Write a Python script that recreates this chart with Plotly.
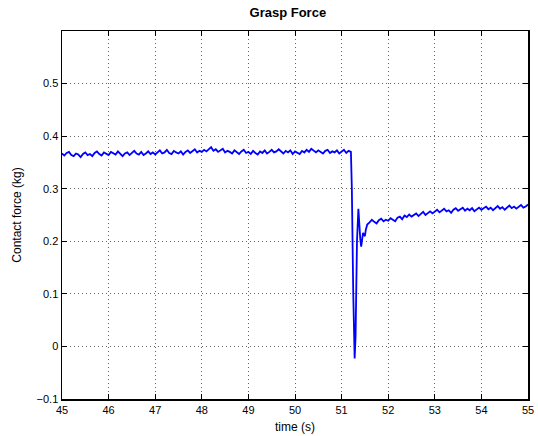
import plotly.graph_objects as go

# --- data ---
pre_t0, pre_dt = 45.00, 0.05
pre_values = [
    0.367,0.363,0.368,0.370,0.364,0.362,0.367,0.365,0.360,0.366,0.369,0.364,0.366,0.362,0.368,0.371,0.366,0.363,0.369,0.367,
    0.364,0.370,0.368,0.365,0.371,0.366,0.362,0.367,0.369,0.364,0.368,0.372,0.367,0.365,0.370,0.364,0.367,0.371,0.366,0.369,
    0.365,0.370,0.373,0.367,0.369,0.374,0.368,0.366,0.372,0.369,0.367,0.371,0.365,0.370,0.373,0.368,0.371,0.375,0.369,0.372,
    0.370,0.374,0.371,0.376,0.379,0.372,0.375,0.370,0.373,0.376,0.369,0.372,0.370,0.367,0.373,0.369,0.366,0.371,0.374,0.368,
    0.370,0.366,0.372,0.368,0.365,0.371,0.368,0.373,0.367,0.370,0.374,0.369,0.371,0.375,0.370,0.367,0.372,0.369,0.373,0.366,
    0.371,0.368,0.366,0.372,0.369,0.374,0.370,0.376,0.372,0.369,0.373,0.370,0.367,0.372,0.374,0.368,0.371,0.369,0.373,0.367,
    0.371,0.374,0.368,0.372,0.370,
]
trans_t = [51.22, 51.25, 51.28, 51.30, 51.33, 51.36, 51.38, 51.40, 51.42, 51.44, 51.46, 51.48, 51.50, 51.52, 51.55]
trans_values = [0.30, 0.10, -0.023, 0.02, 0.20, 0.262, 0.228, 0.205, 0.190, 0.200, 0.216, 0.212, 0.210, 0.222, 0.232]
post_t0, post_dt = 51.60, 0.05
post_values = [
    0.236,0.241,0.237,0.234,0.240,0.243,0.238,0.241,
    0.239,0.244,0.241,0.238,0.245,0.247,0.242,0.249,0.246,0.251,0.247,0.250,0.253,0.248,0.252,0.256,0.250,0.254,0.257,0.253,
    0.256,0.260,0.255,0.258,0.262,0.257,0.259,0.254,0.260,0.263,0.258,0.261,0.264,0.258,0.262,0.259,0.263,0.257,0.261,0.264,
    0.260,0.263,0.266,0.261,0.264,0.259,0.263,0.267,0.262,0.265,0.260,0.264,0.268,0.263,0.266,0.262,0.265,0.269,0.264,0.266,
    0.270,
]
x_ticks = [45, 46, 47, 48, 49, 50, 51, 52, 53, 54, 55]
y_ticks = [-0.1, 0, 0.1, 0.2, 0.3, 0.4, 0.5]
y_tick_text = ["\u22120.1", "0", "0.1", "0.2", "0.3", "0.4", "0.5"]

pre_t = [round(pre_t0 + i * pre_dt, 3) for i in range(len(pre_values))]
post_t = [round(post_t0 + i * post_dt, 3) for i in range(len(post_values))]
t = pre_t + trans_t + post_t
v = pre_values + trans_values + post_values

FONT = "Liberation Sans, Arial, Helvetica, sans-serif"

fig = go.Figure()
fig.add_trace(go.Scatter(x=t, y=v, mode="lines",
                         line=dict(color="#0000ff", width=1.8), showlegend=False))

axis_common = dict(
    showline=True, linecolor="black", linewidth=1.5, mirror="allticks",
    ticks="inside", ticklen=5, tickcolor="black", tickwidth=1,
    showgrid=True, gridcolor="#666666", griddash="1px,3px", gridwidth=1,
    zeroline=False, automargin=False,
    tickfont=dict(family=FONT, size=11, color="black"),
)

fig.update_layout(
    width=538, height=436,
    margin=dict(l=62, r=10, t=31, b=37, autoexpand=False),
    paper_bgcolor="white", plot_bgcolor="white",
    title=dict(text="<b>Grasp Force</b>", x=0.535, xanchor="center",
               yref="container", y=1 - 12 / 436, yanchor="middle",
               font=dict(family=FONT, size=13, color="black")),
    xaxis=dict(range=[45, 55], tickvals=x_ticks, ticktext=[str(x) for x in x_ticks],
               title=dict(text="time (s)", font=dict(family=FONT, size=12, color="black"), standoff=8),
               **axis_common),
    yaxis=dict(range=[-0.1, 0.6], tickvals=y_ticks, ticktext=y_tick_text,
               title=dict(text="Contact force (kg)", font=dict(family=FONT, size=12, color="black"), standoff=12),
               **axis_common),
)

fig.write_html("out.html",
               config={"displayModeBar": False, "staticPlot": True},
               post_script="document.body.style.margin='0px';document.body.style.overflow='hidden';")
